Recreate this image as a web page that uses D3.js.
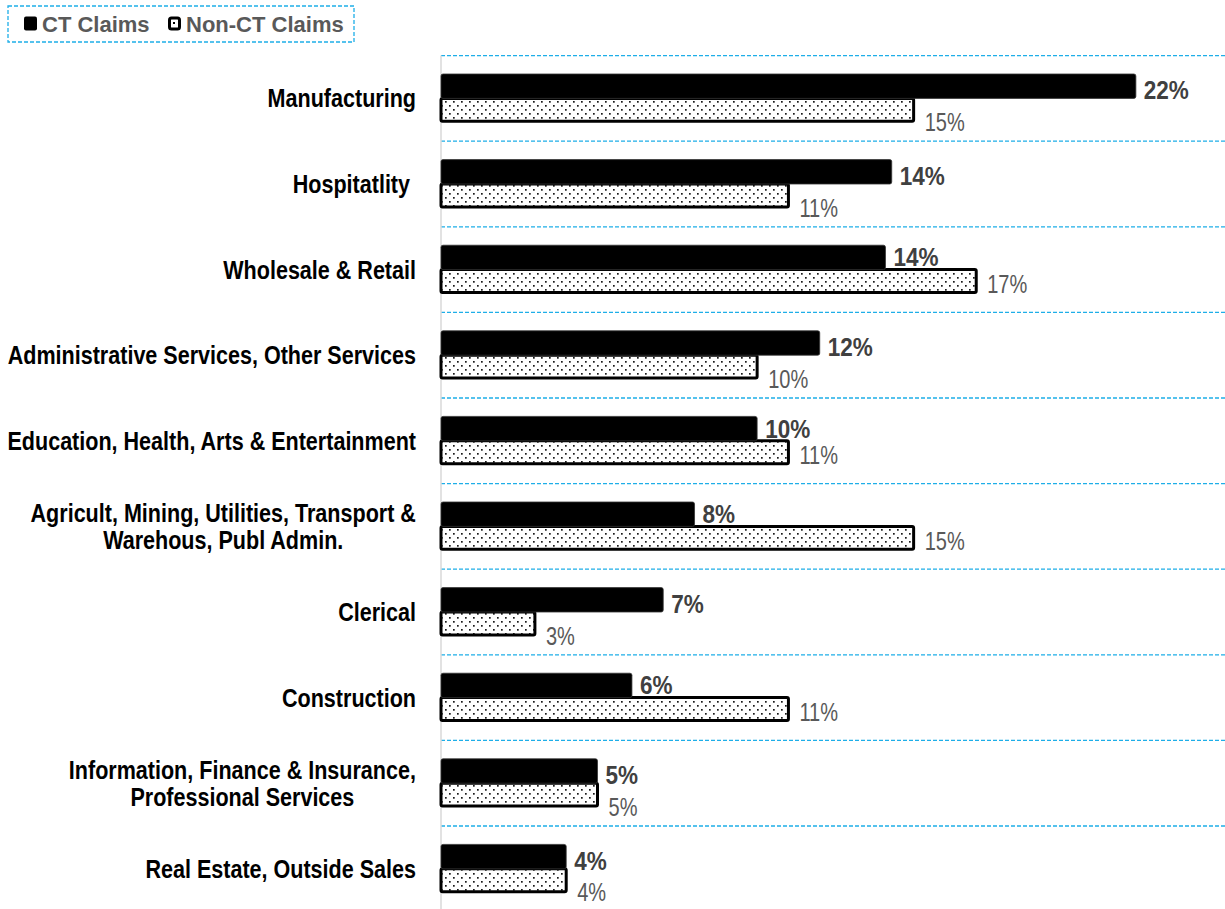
<!DOCTYPE html>
<html>
<head>
<meta charset="utf-8">
<script src="https://cdn.jsdelivr.net/npm/d3@7"></script>
<style>
  html, body { margin: 0; padding: 0; background: #fff; }
  svg { display: block; }
</style>
</head>
<body>
<svg id="chart" width="1225" height="909"></svg>
<script>
// ---- data ----
const categories = [
  ["Manufacturing"],
  ["Hospitatlity "],
  ["Wholesale & Retail"],
  ["Administrative Services, Other Services"],
  ["Education, Health, Arts & Entertainment"],
  ["Agricult, Mining, Utilities, Transport &", "Warehous, Publ Admin."],
  ["Clerical"],
  ["Construction"],
  ["Information, Finance & Insurance,", "Professional Services"],
  ["Real Estate, Outside Sales"]
];
const ctValues    = [22.2, 14.4, 14.2, 12.1, 10.1, 8.1, 7.1, 6.1, 5.0, 4.0];
const nonCtValues = [15.1, 11.1, 17.1, 10.1, 11.1, 15.1, 3.0, 11.1, 5.0, 4.0];
const seriesNames = ["CT Claims", "Non-CT Claims"];

(function () {
// ---- layout ----
const svg = d3.select("#chart");
const W = 1225;
const plotLeft = 441, plotTop = 55.6, plotH = 856;
const gridColor = "#1eaee8";
const font = "'Liberation Sans', Arial, sans-serif";
const catScale = 0.862, ctScale = 0.9, nonScale = 0.77;

const keys = categories.map((d, i) => i);
const x = d3.scaleLinear().domain([0, 25]).range([plotLeft, plotLeft + 25 * 31.3]);
const y = d3.scaleBand().domain(keys).range([plotTop, plotTop + plotH]).paddingInner(0.43).paddingOuter(0.215);
const sub = d3.scaleBand().domain([0, 1]).range([0, y.bandwidth()]);

// pattern
const defs = svg.append("defs");
const pat = defs.append("pattern").attr("id", "dots").attr("patternUnits", "userSpaceOnUse")
  .attr("width", 8).attr("height", 8);
pat.append("rect").attr("width", 8).attr("height", 8).attr("fill", "#fff");
pat.append("rect").attr("x", 1).attr("y", 1).attr("width", 1.7).attr("height", 1.7).attr("fill", "#1a1a1a");
pat.append("rect").attr("x", 5).attr("y", 5).attr("width", 1.7).attr("height", 1.7).attr("fill", "#1a1a1a");

// gridlines at band boundaries
const gridYs = keys.map(k => y(k) - y.step() * y.paddingOuter());
svg.append("g").selectAll("line").data(gridYs).join("line")
  .attr("x1", plotLeft).attr("x2", W).attr("y1", d => d).attr("y2", d => d)
  .attr("stroke", gridColor).attr("stroke-width", 1.3).attr("stroke-dasharray", "4,2");

// axis line
svg.append("line").attr("x1", plotLeft).attr("x2", plotLeft).attr("y1", plotTop).attr("y2", 909)
  .attr("stroke", "#d9d9d9").attr("stroke-width", 1.5);

// bars
const gBars = svg.append("g");
gBars.selectAll("rect.nonct").data(keys).join("rect").attr("class", "nonct")
  .attr("x", x(0)).attr("y", k => y(k) + sub(1))
  .attr("width", k => x(nonCtValues[k]) - x(0)).attr("height", sub.bandwidth() - 1.5)
  .attr("rx", 1.5)
  .attr("fill", "url(#dots)").attr("stroke", "#000").attr("stroke-width", 3);
gBars.selectAll("rect.ct").data(keys).join("rect").attr("class", "ct")
  .attr("x", x(0)).attr("y", k => y(k) + sub(0))
  .attr("width", k => x(ctValues[k]) - x(0)).attr("height", sub.bandwidth())
  .attr("rx", 2)
  .attr("fill", "#000").attr("stroke", "#333").attr("stroke-width", 0.8);

// data labels (horizontally condensed)
const gLab = svg.append("g");
gLab.selectAll("text.ct").data(keys).join("text").attr("class", "ct")
  .attr("transform", k => {
    const tx = x(ctValues[k]) + 8;
    const ty = y(k) + sub(0) + sub.bandwidth() / 2 + (ctValues[k] >= nonCtValues[k] ? 4 : 0);
    return `translate(${tx},${ty}) scale(${ctScale},1)`;
  })
  .attr("dy", "0.36em")
  .attr("font-family", font).attr("font-weight", "bold").attr("font-size", 25)
  .attr("fill", "#404040")
  .text(k => Math.round(ctValues[k]) + "%");
gLab.selectAll("text.nonct").data(keys).join("text").attr("class", "nonct")
  .attr("transform", k => {
    const tx = x(nonCtValues[k]) + 11;
    const ty = y(k) + sub(1) + sub.bandwidth() / 2 + (ctValues[k] >= nonCtValues[k] ? 11 : 2);
    return `translate(${tx},${ty}) scale(${nonScale},1)`;
  })
  .attr("dy", "0.36em")
  .attr("font-family", font).attr("font-size", 26)
  .attr("fill", "#595959")
  .text(k => Math.round(nonCtValues[k]) + "%");

// category labels (horizontally condensed)
const gCat = svg.append("g");
const labelRight = 416;
keys.forEach(k => {
  const lines = categories[k];
  const cy = y(k) + y.bandwidth() / 2;
  const lh = 27;
  const g = gCat.append("g");
  const texts = lines.map((s, j) => g.append("text")
    .attr("dy", "0.36em")
    .attr("font-family", font).attr("font-weight", "bold").attr("font-size", 25)
    .attr("fill", "#000")
    .style("white-space", "pre")
    .text(s));
  const widths = texts.map(t => t.node().getComputedTextLength() * catScale);
  const maxW = d3.max(widths);
  texts.forEach((t, j) => {
    const ty = cy + (j - (lines.length - 1) / 2) * lh;
    if (lines.length === 1) {
      t.attr("text-anchor", "end")
        .attr("transform", `translate(${labelRight},${ty}) scale(${catScale},1)`);
    } else {
      t.attr("text-anchor", "middle")
        .attr("transform", `translate(${labelRight - maxW / 2},${ty}) scale(${catScale},1)`);
    }
  });
});

// legend
const gLeg = svg.append("g");
gLeg.append("rect").attr("x", 8).attr("y", 6).attr("width", 346).attr("height", 36)
  .attr("fill", "#fff").attr("stroke", gridColor).attr("stroke-width", 1.3).attr("stroke-dasharray", "4,2");
const legX = [24, 168];
seriesNames.forEach((name, i) => {
  if (i === 0) {
    gLeg.append("rect").attr("x", legX[i]).attr("y", 16.5).attr("width", 13).attr("height", 14)
      .attr("rx", 2).attr("fill", "#000");
  } else {
    gLeg.append("rect").attr("x", legX[i] + 1.5).attr("y", 18).attr("width", 10).attr("height", 11)
      .attr("rx", 2).attr("fill", "#fff").attr("stroke", "#000").attr("stroke-width", 3);
    gLeg.append("rect").attr("x", legX[i] + 5).attr("y", 22).attr("width", 2).attr("height", 2).attr("fill", "#000");
  }
  gLeg.append("text").attr("x", legX[i] + 18).attr("y", 24).attr("dy", "0.36em")
    .attr("font-family", font).attr("font-weight", "bold").attr("font-size", 22)
    .attr("fill", "#595959").text(name);
});
})();
</script>
</body>
</html>
